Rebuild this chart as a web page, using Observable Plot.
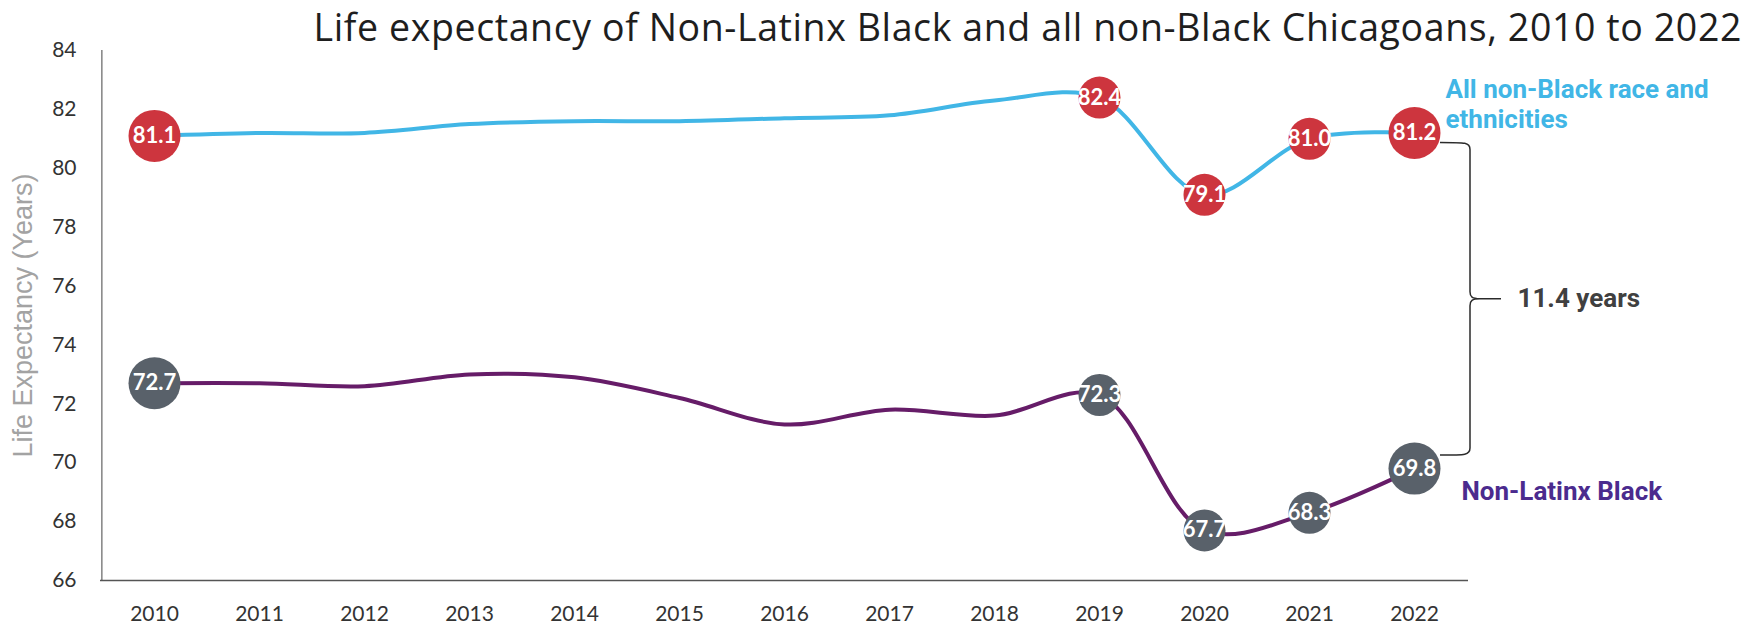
<!DOCTYPE html>
<html>
<head>
<meta charset="utf-8">
<script src="https://cdn.jsdelivr.net/npm/d3@7"></script>
<script src="https://cdn.jsdelivr.net/npm/@observablehq/plot@0.6"></script>
<style>
  html, body { margin: 0; padding: 0; background: #fff; }
  #wrap { position: relative; width: 1758px; height: 628px; overflow: hidden; }
  #title {
    position: absolute; right: 16px; top: 1px;
    font-family: "Open Sans", Lato, sans-serif; font-size: 37.5px; line-height: normal; letter-spacing: 0.6px;
    color: #1e1e1e; white-space: nowrap;
  }
  #chart { position: absolute; left: 0; top: 0; }
</style>
</head>
<body>
<div id="wrap">
  <div id="chart"></div>
  <div id="title">Life expectancy of Non-Latinx Black and all non-Black Chicagoans, 2010 to 2022</div>
</div>
<script>
// ---- Data ----
const years = [2010, 2011, 2012, 2013, 2014, 2015, 2016, 2017, 2018, 2019, 2020, 2021, 2022];
const nonBlackValues = [81.1, 81.2, 81.2, 81.5, 81.6, 81.6, 81.7, 81.8, 82.3, 82.4, 79.1, 81.0, 81.2];
const blackValues    = [72.7, 72.7, 72.6, 73.0, 72.9, 72.2, 71.3, 71.8, 71.6, 72.3, 67.7, 68.3, 69.8];
const labeledYears = [2010, 2019, 2020, 2021, 2022];
const yTicks = [66, 68, 70, 72, 74, 76, 78, 80, 82, 84];
const nonBlackName = "All non-Black race and\nethnicities";
const blackName = "Non-Latinx Black";
const yTitle = "Life Expectancy (Years)";

// ---- Build table ----
const nonBlack = years.map((year, i) => ({year, value: nonBlackValues[i], series: "nonBlack"}));
const black = years.map((year, i) => ({year, value: blackValues[i], series: "black"}));
const bubbles = [...nonBlack, ...black].filter(d => labeledYears.includes(d.year));
const lastYear = years[years.length - 1];
const lastNB = nonBlack[nonBlack.length - 1];
const lastB = black[black.length - 1];
const gap = lastNB.value - lastB.value;

const BLUE = "#41b6e6", PURPLE = "#661c68", RED = "#cd353e", GRAY = "#59616a", LABELPURPLE = "#4b2b8e";
const bigR = d => (d.year === years[0] || d.year === lastYear) ? 26 : 21;

function bracket(index, scales, values, dims) {
  const x0 = scales.x(lastYear) + 26;
  const xv = x0 + 30;
  const yTop = scales.y(lastNB.value) + 10;
  const yBot = scales.y(lastB.value) - 13;
  const yMid = (yTop + yBot) / 2;
  const c = 7;
  const d = [
    `M${x0},${yTop}`,
    `C${xv - 4},${yTop} ${xv},${yTop} ${xv},${yTop + c}`,
    `L${xv},${yMid - c}`,
    `C${xv},${yMid - 2} ${xv + 2},${yMid} ${xv + 10},${yMid}`,
    `L${xv + 31},${yMid}`,
    `M${xv + 10},${yMid}`,
    `C${xv + 2},${yMid} ${xv},${yMid + 2} ${xv},${yMid + c}`,
    `L${xv},${yBot - c}`,
    `C${xv},${yBot} ${xv - 4},${yBot} ${x0},${yBot}`
  ].join(" ");
  const path = document.createElementNS("http://www.w3.org/2000/svg", "path");
  path.setAttribute("d", d);
  path.setAttribute("fill", "none");
  path.setAttribute("stroke", "#2b2b2b");
  path.setAttribute("stroke-width", "1.5");
  const g = document.createElementNS("http://www.w3.org/2000/svg", "g");
  g.appendChild(path);
  return g;
}

const chart = Plot.plot({
  width: 1758,
  height: 628,
  marginLeft: 100,
  marginRight: 290,
  marginTop: 50,
  marginBottom: 48,
  style: {fontFamily: "Lato, sans-serif", background: "#fff"},
  x: {type: "point", domain: years, padding: 0.5, label: null},
  y: {domain: [66, 84], label: null},
  r: {type: "identity"},
  marks: [
    Plot.axisX({tickSize: 0, tickPadding: 26, fontSize: 21, fill: "#333", label: null, tickFormat: d => String(d)}),
    Plot.axisY({ticks: yTicks, tickSize: 0, tickPadding: 24, fontSize: 21, fill: "#333", label: null}),
    Plot.ruleY([66], {stroke: "#555", strokeWidth: 1.5}),
    Plot.ruleX([years[0]], {y1: 66, y2: 84, dx: -52.6, stroke: "#444", strokeWidth: 1}),
    Plot.text([yTitle], {frameAnchor: "left", textAnchor: "middle", dx: -77, rotate: -90, fontSize: 27, fill: "#a3a3a3",
      fontFamily: "'Liberation Sans', Arial, sans-serif", text: d => d, letterSpacing: "0.4px"}),
    Plot.line(nonBlack, {x: "year", y: "value", stroke: BLUE, strokeWidth: 4, curve: "catmull-rom"}),
    Plot.line(black, {x: "year", y: "value", stroke: PURPLE, strokeWidth: 4, curve: "catmull-rom"}),
    Plot.dot(bubbles, {x: "year", y: "value", r: bigR, fill: d => d.series === "nonBlack" ? RED : GRAY, stroke: null}),
    Plot.text(bubbles, {x: "year", y: "value", text: d => d.value.toFixed(1), fill: "#fff",
      fontWeight: "bold", fontSize: 22}),
    Plot.text([lastNB], {x: "year", y: "value", text: [nonBlackName], textAnchor: "start", dx: 31, dy: -30,
      lineHeight: 1.16, fill: BLUE, fontWeight: "bold", fontSize: 26, fontFamily: "Roboto, sans-serif"}),
    Plot.text([lastB], {x: "year", y: "value", text: [blackName], textAnchor: "start", dx: 47, dy: 23,
      fill: LABELPURPLE, fontWeight: "bold", fontSize: 26, fontFamily: "Roboto, sans-serif"}),
    Plot.text([{year: lastYear, value: (lastNB.value + lastB.value) / 2}], {x: "year", y: "value",
      text: [`${gap.toFixed(1)} years`], textAnchor: "start", dx: 103, dy: -2,
      fill: "#404040", fontWeight: "bold", fontSize: 26, fontFamily: "Roboto, sans-serif"}),
    bracket
  ]
});
document.getElementById("chart").appendChild(chart);
</script>
</body>
</html>
